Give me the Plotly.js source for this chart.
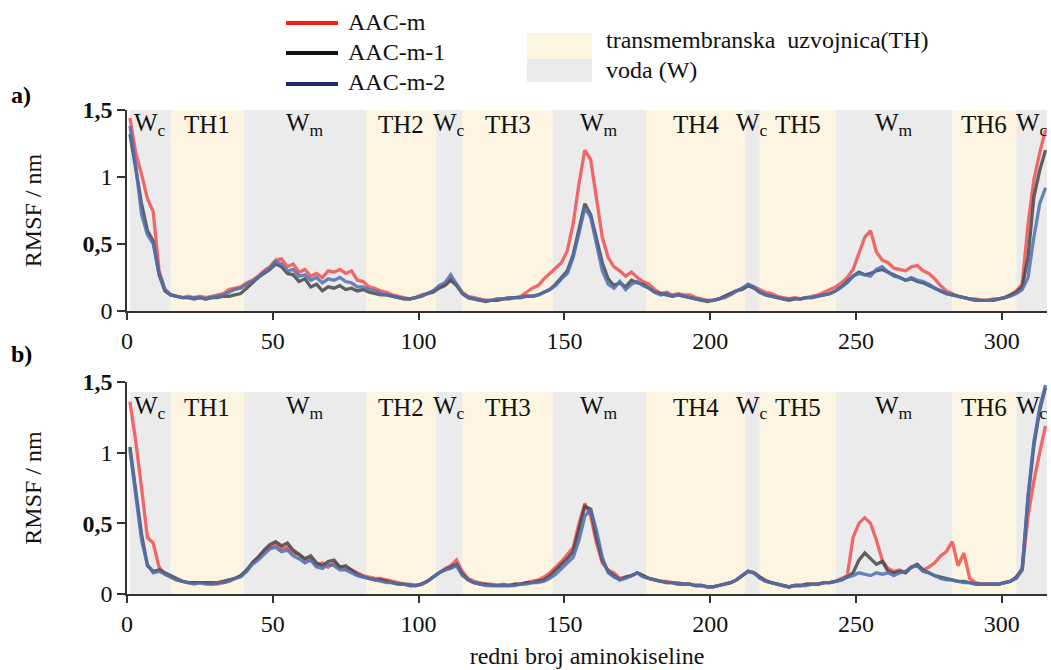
<!DOCTYPE html>
<html>
<head>
<meta charset="utf-8">
<script src="https://cdn.plot.ly/plotly-3.0.1.min.js"></script>
<style>html,body{margin:0;padding:0;background:#fff;}#chart{width:1051px;height:670px;}</style>
</head>
<body>
<div id="chart"></div>
<script>
// ---------------- DATA ----------------
const seriesNames = ['AAC-m', 'AAC-m-1', 'AAC-m-2'];
const panelLabels = ['a)', 'b)'];
// residue numbers (1, 3, 5, ... 315)
const residues = [];
for (let r = 1; r <= 315; r += 2) residues.push(r);

// region boundaries (residue numbers) and types
const regionBounds = [1, 15, 40, 82, 106, 115, 146, 178, 212, 217, 243, 283, 305, 315.5];
const regionTypes  = ['W', 'TH', 'W', 'TH', 'W', 'TH', 'W', 'TH', 'W', 'TH', 'W', 'TH', 'W'];
const regionNames  = ['W<sub>c</sub>', 'TH1', 'W<sub>m</sub>', 'TH2', 'W<sub>c</sub>', 'TH3', 'W<sub>m</sub>',
                      'TH4', 'W<sub>c</sub>', 'TH5', 'W<sub>m</sub>', 'TH6', 'W<sub>c</sub>'];
const legendRegionNames = ['transmembranska&nbsp; uzvojnica(TH)', 'voda (W)'];

const yTickVals = [0, 0.5, 1, 1.5];
const yTickText = ['0', '<b>0,5</b>', '1', '<b>1,5</b>'];
const xTickVals = [0, 50, 100, 150, 200, 250, 300];

// panel a)
const a_AACm = [
1.44,1.18,1.02,0.84,0.74,0.30,0.16,0.12,0.11,0.10,
0.11,0.10,0.11,0.10,0.11,0.12,0.13,0.16,0.17,0.18,
0.21,0.23,0.26,0.30,0.33,0.38,0.39,0.33,0.35,0.29,
0.31,0.26,0.28,0.25,0.30,0.29,0.31,0.28,0.30,0.23,
0.22,0.18,0.17,0.15,0.14,0.12,0.11,0.10,0.09,0.10,
0.12,0.13,0.15,0.18,0.20,0.24,0.20,0.14,0.11,0.10,
0.09,0.08,0.08,0.09,0.09,0.10,0.10,0.11,0.14,0.17,
0.19,0.24,0.28,0.32,0.36,0.45,0.65,0.95,1.20,1.13,
0.82,0.55,0.40,0.33,0.30,0.26,0.29,0.25,0.22,0.20,
0.16,0.13,0.14,0.12,0.13,0.12,0.12,0.10,0.09,0.08,
0.08,0.09,0.11,0.13,0.15,0.17,0.19,0.18,0.16,0.14,
0.13,0.11,0.10,0.09,0.10,0.09,0.10,0.11,0.12,0.14,
0.16,0.18,0.21,0.25,0.31,0.43,0.55,0.60,0.44,0.38,
0.36,0.32,0.31,0.30,0.33,0.34,0.30,0.28,0.24,0.19,
0.15,0.13,0.11,0.10,0.09,0.09,0.08,0.08,0.09,0.09,
0.10,0.12,0.15,0.20,0.65,0.98,1.18,1.35];
const a_AACm1 = [
1.32,1.05,0.80,0.60,0.52,0.27,0.15,0.12,0.11,0.10,
0.10,0.09,0.10,0.09,0.10,0.10,0.11,0.11,0.12,0.13,
0.17,0.21,0.25,0.28,0.31,0.35,0.33,0.28,0.27,0.22,
0.24,0.18,0.20,0.15,0.18,0.17,0.19,0.16,0.17,0.15,
0.16,0.14,0.13,0.12,0.12,0.11,0.10,0.09,0.09,0.10,
0.11,0.13,0.14,0.17,0.19,0.23,0.19,0.13,0.10,0.09,
0.08,0.07,0.08,0.08,0.09,0.09,0.10,0.10,0.11,0.11,
0.12,0.14,0.16,0.20,0.25,0.30,0.42,0.62,0.80,0.72,
0.55,0.36,0.24,0.19,0.21,0.18,0.23,0.21,0.20,0.17,
0.14,0.13,0.12,0.11,0.12,0.11,0.10,0.09,0.08,0.07,
0.08,0.09,0.11,0.13,0.15,0.16,0.19,0.17,0.14,0.12,
0.11,0.10,0.09,0.08,0.09,0.09,0.10,0.10,0.11,0.12,
0.13,0.15,0.18,0.22,0.26,0.29,0.27,0.28,0.30,0.31,
0.29,0.27,0.25,0.23,0.24,0.22,0.21,0.19,0.17,0.15,
0.13,0.12,0.11,0.10,0.09,0.08,0.08,0.08,0.08,0.09,
0.10,0.12,0.14,0.18,0.40,0.85,1.05,1.20];
const a_AACm2 = [
1.38,1.08,0.72,0.57,0.50,0.28,0.16,0.12,0.11,0.10,
0.10,0.10,0.10,0.09,0.10,0.11,0.12,0.14,0.16,0.17,
0.20,0.22,0.25,0.29,0.32,0.37,0.35,0.30,0.31,0.26,
0.27,0.23,0.25,0.21,0.24,0.23,0.25,0.22,0.21,0.18,
0.18,0.16,0.15,0.13,0.12,0.11,0.10,0.09,0.09,0.10,
0.11,0.13,0.15,0.19,0.21,0.27,0.20,0.13,0.10,0.09,
0.08,0.08,0.08,0.09,0.09,0.10,0.10,0.10,0.11,0.11,
0.12,0.14,0.16,0.19,0.24,0.28,0.40,0.58,0.77,0.70,
0.50,0.30,0.20,0.17,0.22,0.16,0.20,0.22,0.19,0.17,
0.14,0.12,0.13,0.11,0.12,0.11,0.10,0.09,0.08,0.08,
0.08,0.09,0.10,0.12,0.15,0.17,0.20,0.18,0.14,0.12,
0.11,0.10,0.09,0.09,0.09,0.09,0.10,0.10,0.11,0.12,
0.13,0.15,0.18,0.21,0.26,0.28,0.27,0.26,0.31,0.33,
0.29,0.26,0.25,0.23,0.25,0.23,0.22,0.20,0.17,0.15,
0.13,0.12,0.11,0.10,0.09,0.08,0.08,0.08,0.08,0.09,
0.10,0.11,0.13,0.16,0.25,0.55,0.80,0.92];

// panel b)
const b_AACm = [
1.36,1.08,0.75,0.40,0.36,0.19,0.14,0.12,0.10,0.09,
0.08,0.08,0.08,0.08,0.07,0.07,0.08,0.09,0.11,0.13,
0.16,0.22,0.26,0.30,0.33,0.35,0.32,0.33,0.29,0.28,
0.24,0.25,0.20,0.22,0.19,0.22,0.19,0.18,0.17,0.15,
0.13,0.12,0.11,0.11,0.10,0.09,0.08,0.07,0.07,0.06,
0.07,0.09,0.12,0.15,0.18,0.20,0.24,0.16,0.11,0.09,
0.08,0.07,0.07,0.06,0.07,0.06,0.07,0.07,0.08,0.09,
0.10,0.12,0.15,0.19,0.23,0.28,0.33,0.50,0.64,0.55,
0.36,0.22,0.17,0.15,0.11,0.12,0.13,0.15,0.13,0.11,
0.10,0.09,0.09,0.08,0.08,0.07,0.07,0.06,0.06,0.05,
0.05,0.06,0.07,0.08,0.10,0.13,0.16,0.15,0.12,0.10,
0.08,0.07,0.06,0.05,0.06,0.06,0.07,0.07,0.07,0.08,
0.08,0.09,0.11,0.13,0.40,0.50,0.54,0.50,0.38,0.24,
0.18,0.16,0.17,0.15,0.19,0.20,0.17,0.19,0.22,0.27,
0.30,0.37,0.20,0.29,0.11,0.08,0.07,0.07,0.07,0.07,
0.08,0.09,0.12,0.17,0.55,0.80,1.00,1.19];
const b_AACm1 = [
1.04,0.72,0.42,0.20,0.16,0.17,0.15,0.13,0.11,0.09,
0.08,0.08,0.08,0.08,0.08,0.08,0.09,0.10,0.11,0.13,
0.17,0.22,0.26,0.31,0.35,0.37,0.34,0.36,0.31,0.28,
0.25,0.27,0.22,0.20,0.23,0.24,0.19,0.20,0.17,0.14,
0.12,0.11,0.10,0.10,0.09,0.08,0.07,0.07,0.06,0.06,
0.07,0.09,0.12,0.15,0.17,0.19,0.21,0.14,0.10,0.08,
0.07,0.07,0.06,0.06,0.06,0.06,0.07,0.07,0.08,0.08,
0.09,0.10,0.13,0.17,0.21,0.25,0.30,0.45,0.62,0.60,
0.40,0.24,0.16,0.13,0.10,0.12,0.13,0.15,0.13,0.11,
0.10,0.09,0.08,0.08,0.07,0.07,0.07,0.06,0.06,0.05,
0.05,0.06,0.07,0.08,0.10,0.13,0.16,0.15,0.12,0.09,
0.08,0.07,0.06,0.05,0.06,0.06,0.07,0.07,0.07,0.08,
0.08,0.09,0.10,0.12,0.15,0.24,0.29,0.25,0.21,0.23,
0.16,0.15,0.16,0.15,0.19,0.21,0.17,0.15,0.13,0.12,
0.11,0.10,0.09,0.09,0.08,0.07,0.07,0.07,0.07,0.07,
0.08,0.09,0.12,0.18,0.68,1.05,1.30,1.46];
const b_AACm2 = [
1.02,0.68,0.38,0.21,0.15,0.16,0.14,0.12,0.10,0.09,
0.08,0.07,0.08,0.07,0.07,0.08,0.08,0.09,0.11,0.12,
0.16,0.21,0.24,0.28,0.32,0.33,0.30,0.31,0.27,0.25,
0.22,0.24,0.19,0.18,0.21,0.20,0.17,0.17,0.15,0.13,
0.12,0.11,0.10,0.09,0.08,0.08,0.07,0.07,0.06,0.06,
0.07,0.09,0.12,0.15,0.17,0.18,0.20,0.13,0.10,0.08,
0.07,0.06,0.06,0.06,0.06,0.06,0.06,0.07,0.07,0.08,
0.08,0.09,0.11,0.14,0.18,0.22,0.26,0.38,0.55,0.60,
0.45,0.26,0.15,0.12,0.10,0.11,0.13,0.15,0.12,0.11,
0.10,0.09,0.08,0.08,0.07,0.07,0.07,0.06,0.06,0.05,
0.05,0.06,0.07,0.08,0.10,0.13,0.16,0.15,0.11,0.09,
0.08,0.07,0.06,0.05,0.06,0.06,0.06,0.07,0.07,0.08,
0.08,0.09,0.10,0.12,0.13,0.15,0.14,0.13,0.15,0.14,
0.15,0.13,0.15,0.16,0.19,0.20,0.16,0.15,0.13,0.11,
0.10,0.10,0.09,0.08,0.08,0.07,0.07,0.07,0.07,0.07,
0.08,0.09,0.11,0.17,0.70,1.08,1.32,1.48];

// ---------------- STYLE ----------------
const FONT = '"Liberation Serif", "Times New Roman", serif';
const legendColors = ['#ff1a1a', '#111111', '#1c2a6e'];
const lineColors = ['rgba(240,80,80,0.85)', 'rgba(70,70,70,0.85)', 'rgba(80,112,175,0.85)'];
const fillTH = '#fdf5e2';
const fillW = '#ebebeb';

const W = 1051, H = 670, ML = 127, MR = 4;
const PW = W - ML - MR;
const px = x => (x - ML) / PW;
const py = y => 1 - y / H;

const panels = [
  {series: [a_AACm, a_AACm1, a_AACm2], xa: 'x', ya: 'y', shadeTop: 1.5, labelY: 1.39},
  {series: [b_AACm, b_AACm1, b_AACm2], xa: 'x2', ya: 'y2', shadeTop: 1.43, labelY: 1.32}
];

const traces = [];
const shapes = [];
const annotations = [];

panels.forEach((p, pi) => {
  p.series.forEach((vals, si) => {
    traces.push({
      x: residues, y: vals, type: 'scatter', mode: 'lines',
      name: seriesNames[si], showlegend: false,
      xaxis: p.xa, yaxis: p.ya,
      line: {color: lineColors[si], width: 3.3}
    });
  });
  regionTypes.forEach((t, ri) => {
    shapes.push({
      type: 'rect', xref: p.xa, yref: p.ya, layer: 'below',
      x0: regionBounds[ri], x1: regionBounds[ri + 1], y0: 0, y1: p.shadeTop,
      fillcolor: t === 'TH' ? fillTH : fillW, line: {width: 0}
    });
    annotations.push({
      xref: p.xa, yref: p.ya, x: (regionBounds[ri] + regionBounds[ri + 1]) / 2, y: p.labelY,
      text: regionNames[ri], showarrow: false, xanchor: 'center', yanchor: 'middle',
      font: {family: FONT, size: 25, color: '#111'}
    });
  });
});

// panel letters
annotations.push({xref: 'paper', yref: 'paper', x: px(9), y: py(95), text: '<b>' + panelLabels[0] + '</b>',
  showarrow: false, xanchor: 'left', yanchor: 'middle', font: {family: FONT, size: 24, color: '#000'}});
annotations.push({xref: 'paper', yref: 'paper', x: px(9), y: py(354), text: '<b>' + panelLabels[1] + '</b>',
  showarrow: false, xanchor: 'left', yanchor: 'middle', font: {family: FONT, size: 24, color: '#000'}});

// legend: lines
const legYs = [23, 53, 84];
const legTextYs = [22, 52, 82];
seriesNames.forEach((n, i) => {
  shapes.push({type: 'line', xref: 'paper', yref: 'paper', x0: px(286), x1: px(338), y0: py(legYs[i]), y1: py(legYs[i]),
    line: {color: legendColors[i], width: 4}});
  annotations.push({xref: 'paper', yref: 'paper', x: px(346), y: py(legTextYs[i]), text: n, showarrow: false,
    xanchor: 'left', yanchor: 'middle', font: {family: FONT, size: 24, color: '#111'}});
});
// legend: region boxes
shapes.push({type: 'rect', xref: 'paper', yref: 'paper', x0: px(527), x1: px(592), y0: py(33), y1: py(59),
  fillcolor: fillTH, line: {width: 0}});
shapes.push({type: 'rect', xref: 'paper', yref: 'paper', x0: px(527), x1: px(592), y0: py(59), y1: py(82),
  fillcolor: fillW, line: {width: 0}});
annotations.push({xref: 'paper', yref: 'paper', x: px(604), y: py(40), text: legendRegionNames[0], showarrow: false,
  xanchor: 'left', yanchor: 'middle', font: {family: FONT, size: 24, color: '#111'}});
annotations.push({xref: 'paper', yref: 'paper', x: px(604), y: py(70), text: legendRegionNames[1], showarrow: false,
  xanchor: 'left', yanchor: 'middle', font: {family: FONT, size: 24, color: '#111'}});

const xAxisBase = {
  range: [0, 315.5], tickvals: xTickVals, ticks: 'outside', ticklen: 7, tickwidth: 1.5, tickcolor: '#333',
  showline: true, linecolor: '#333', linewidth: 1.5, showgrid: false, zeroline: false,
  tickfont: {family: FONT, size: 24, color: '#111'}
};
const yAxisBase = {
  range: [0, 1.5], tickvals: yTickVals, ticktext: yTickText, ticks: 'outside', ticklen: 8, tickwidth: 1.5,
  tickcolor: '#333', showline: true, linecolor: '#333', linewidth: 1.5, showgrid: false, zeroline: false,
  tickfont: {family: FONT, size: 24, color: '#111'},
  title: {text: 'RMSF / nm', font: {family: FONT, size: 24, color: '#111'}, standoff: 34}
};

const layout = {
  width: W, height: H,
  margin: {l: ML, r: MR, t: 0, b: 0},
  paper_bgcolor: '#fff', plot_bgcolor: '#fff',
  showlegend: false,
  xaxis: Object.assign({}, xAxisBase, {anchor: 'y', domain: [0, 1]}),
  yaxis: Object.assign({}, yAxisBase, {anchor: 'x', domain: [py(311), py(110)]}),
  xaxis2: Object.assign({}, xAxisBase, {anchor: 'y2', domain: [0, 1],
    title: {text: 'redni broj aminokiseline', font: {family: FONT, size: 24, color: '#111'}, standoff: 12}}),
  yaxis2: Object.assign({}, yAxisBase, {anchor: 'x2', domain: [py(594), py(382)]}),
  shapes: shapes,
  annotations: annotations
};

Plotly.newPlot('chart', traces, layout, {displayModeBar: false});
</script>
</body>
</html>
